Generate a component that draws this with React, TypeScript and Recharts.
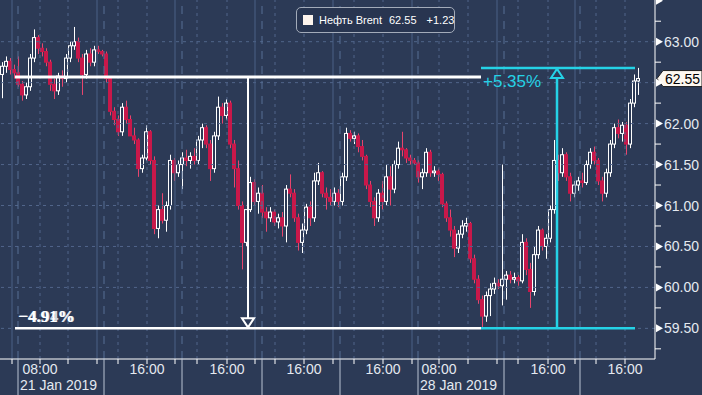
import React from 'react';
import { ComposedChart, Bar, XAxis, YAxis, ReferenceLine, ReferenceDot } from 'recharts';

const BG = '#2c3a56';
const CYAN = '#25d2e6';
const RED = '#c8184a';
const FONT = '"Liberation Sans", Arial, sans-serif';

// legend texts
const seriesName = 'Нефть Brent';
const lastPrice = '62.55';
const lastChange = '+1.23';

// OHLC (hourly-ish candles)
const opens = [
  62.60, 62.70, 62.76, 62.66, 62.62, 62.48, 62.35, 62.45, 62.80, 63.05,
  62.92, 62.88, 62.75, 62.48, 62.40, 62.58, 62.55, 62.80, 62.95, 63.00,
  62.80, 62.60, 62.85, 62.75, 62.90, 62.88, 62.85, 62.55, 62.15, 62.05,
  61.90, 62.20, 62.05, 61.85, 61.80, 61.45, 61.58, 61.90, 61.55, 60.72,
  60.95, 60.82, 61.00, 61.55, 61.40, 61.50, 61.58, 61.55, 61.60, 61.55,
  61.80, 61.95, 61.75, 61.45, 61.85, 62.20, 62.10, 62.25, 61.75, 61.45,
  61.00, 60.55, 60.95, 61.28, 61.05, 61.15, 60.92, 60.85, 60.92, 60.80,
  60.85, 60.75, 61.20, 61.15, 60.85, 60.55, 60.70, 60.98, 60.85, 61.30,
  61.40, 61.15, 61.10, 61.05, 61.15, 61.05, 61.35, 61.88, 61.82, 61.85,
  61.72, 61.60, 61.25, 61.05, 60.85, 61.15, 61.05, 61.35, 61.20, 61.50,
  61.70, 61.68, 61.58, 61.55, 61.52, 61.35, 61.40, 61.65, 61.40, 61.42,
  61.38, 61.02, 60.85, 60.70, 60.48, 60.65, 60.75, 60.78, 60.35, 60.10,
  59.85, 59.65, 59.90, 59.98, 60.05, 60.02, 60.10, 60.15, 60.10, 60.12,
  60.08, 60.55, 60.22, 59.95, 60.40, 60.70, 60.50, 60.60, 60.95, 61.55,
  61.40, 61.62, 61.35, 61.15, 61.25, 61.30, 61.28, 61.50, 61.65, 61.55,
  61.30, 61.15, 61.40, 61.75, 61.95, 61.88, 61.98, 61.75, 62.25, 62.52,
];
const highs = [
  62.75, 62.82, 62.80, 62.72, 62.82, 62.52, 62.50, 62.85, 63.15, 63.08,
  62.98, 62.92, 62.78, 62.55, 62.62, 62.65, 62.85, 63.00, 63.18, 63.05,
  62.85, 62.90, 62.92, 62.95, 62.95, 62.90, 62.88, 62.58, 62.20, 62.10,
  62.25, 62.28, 62.10, 61.95, 61.82, 61.62, 61.98, 61.92, 61.60, 61.00,
  61.15, 61.05, 61.62, 61.58, 61.55, 61.65, 61.68, 61.65, 61.70, 61.85,
  62.00, 61.98, 61.80, 61.90, 62.33, 62.25, 62.30, 62.28, 61.80, 61.55,
  61.05, 60.95, 61.35, 61.32, 61.22, 61.25, 60.98, 60.98, 60.95, 60.90,
  60.92, 61.25, 61.38, 61.20, 60.90, 60.78, 61.02, 61.05, 61.40, 61.52,
  61.42, 61.22, 61.20, 61.22, 61.20, 61.40, 61.95, 61.92, 61.90, 61.88,
  61.80, 61.62, 61.30, 61.10, 61.20, 61.30, 61.50, 61.48, 61.55, 61.78,
  61.90, 61.70, 61.62, 61.58, 61.55, 61.45, 61.70, 61.68, 61.48, 61.45,
  61.40, 61.05, 60.95, 60.75, 60.70, 60.82, 60.85, 60.80, 60.40, 60.15,
  59.90, 59.95, 60.05, 60.12, 60.10, 61.50, 60.20, 60.20, 60.18, 60.15,
  60.65, 60.60, 60.30, 60.50, 60.75, 60.72, 60.65, 61.00, 61.80, 61.62,
  61.70, 61.65, 61.40, 61.30, 61.35, 61.40, 61.55, 61.70, 61.72, 61.58,
  61.35, 61.45, 61.80, 62.00, 62.05, 62.02, 62.02, 62.30, 62.60, 62.68,
];
const lows = [
  62.31, 62.62, 62.60, 62.55, 62.45, 62.28, 62.30, 62.40, 62.75, 62.85,
  62.82, 62.70, 62.40, 62.30, 62.35, 62.45, 62.50, 62.75, 62.90, 62.75,
  62.35, 62.55, 62.70, 62.70, 62.85, 62.82, 62.50, 62.10, 61.98, 61.85,
  61.85, 62.00, 61.85, 61.75, 61.35, 61.40, 61.55, 61.50, 60.65, 60.60,
  60.78, 60.68, 60.95, 61.30, 61.35, 61.20, 61.48, 61.45, 61.50, 61.50,
  61.70, 61.70, 61.30, 61.40, 61.80, 62.00, 62.05, 61.70, 61.22, 60.95,
  60.22, 60.50, 60.92, 61.00, 60.90, 60.85, 60.68, 60.80, 60.75, 60.72,
  60.62, 60.55, 61.10, 60.80, 60.45, 60.42, 60.65, 60.75, 60.80, 61.25,
  61.10, 60.95, 61.00, 61.00, 60.98, 61.00, 61.30, 61.78, 61.75, 61.65,
  61.55, 61.20, 60.98, 60.75, 60.80, 60.95, 61.00, 61.00, 61.15, 61.45,
  61.60, 61.52, 61.50, 61.50, 61.28, 61.20, 61.35, 61.35, 61.35, 61.30,
  60.98, 60.80, 60.62, 60.37, 60.42, 60.60, 60.68, 60.30, 60.05, 59.80,
  59.50, 59.58, 59.65, 59.92, 59.98, 59.78, 59.85, 60.05, 60.05, 60.02,
  60.05, 60.15, 59.75, 59.90, 60.35, 60.45, 60.35, 60.55, 60.90, 61.30,
  61.35, 61.30, 61.05, 61.10, 61.18, 61.22, 61.25, 61.45, 61.50, 61.25,
  61.05, 61.10, 61.35, 61.70, 61.82, 61.78, 61.62, 61.70, 62.20, 62.35,
];
const closes = [
  62.70, 62.76, 62.66, 62.62, 62.48, 62.35, 62.45, 62.80, 63.05, 62.92,
  62.88, 62.75, 62.48, 62.40, 62.58, 62.55, 62.80, 62.95, 63.00, 62.80,
  62.60, 62.85, 62.75, 62.90, 62.88, 62.85, 62.55, 62.15, 62.05, 61.90,
  62.20, 62.05, 61.85, 61.80, 61.45, 61.58, 61.90, 61.55, 60.72, 60.95,
  60.82, 61.00, 61.55, 61.40, 61.50, 61.58, 61.55, 61.60, 61.55, 61.80,
  61.95, 61.75, 61.45, 61.85, 62.20, 62.10, 62.25, 61.75, 61.45, 61.00,
  60.55, 60.95, 61.28, 61.05, 61.15, 60.92, 60.85, 60.92, 60.80, 60.85,
  60.75, 61.20, 61.15, 60.85, 60.55, 60.70, 60.98, 60.85, 61.30, 61.40,
  61.15, 61.10, 61.05, 61.15, 61.05, 61.35, 61.88, 61.82, 61.85, 61.72,
  61.60, 61.25, 61.05, 60.85, 61.15, 61.05, 61.35, 61.20, 61.50, 61.70,
  61.68, 61.58, 61.55, 61.52, 61.35, 61.40, 61.65, 61.40, 61.42, 61.38,
  61.02, 60.85, 60.70, 60.48, 60.65, 60.75, 60.78, 60.35, 60.10, 59.85,
  59.65, 59.90, 59.98, 60.05, 60.02, 60.10, 60.15, 60.10, 60.12, 60.08,
  60.55, 60.22, 59.95, 60.40, 60.70, 60.50, 60.60, 60.95, 61.55, 61.40,
  61.62, 61.35, 61.15, 61.25, 61.30, 61.28, 61.50, 61.65, 61.55, 61.30,
  61.15, 61.40, 61.75, 61.95, 61.88, 61.98, 61.75, 62.25, 62.52, 62.55,
];

// time axis, in candle-index units
const sessionEnds = [2.5, 23.75, 43.25, 63.25, 82.75, 102.5, 123.75, 143.25];
const dayStarts = [4, 25.5, 45, 65, 84.5, 104, 125.5, 144.5];
const dateLabels = ['21 Jan 2019', '', '', '', '', '28 Jan 2019', '', ''];
const ticks08 = [9.5, 29, 48.75, 68.25, 88, 109.25, 129, 148.5];
const labels08 = ['08:00', '', '', '', '', '08:00', '', ''];
const ticks16 = [16.5, 36.25, 56.25, 75.5, 95.25, 116.5, 136.5, 155.75];
const labels16 = ['', '16:00', '16:00', '16:00', '16:00', '', '16:00', '16:00'];

// price axis
const majorTicks = [59.5, 60.0, 60.5, 61.0, 61.5, 62.0, 62.5, 63.0, 63.5];
const minorTicks = [59.25, 59.75, 60.25, 60.75, 61.25, 61.75, 62.25, 62.75, 63.25];
const Y_MIN = 59.126;
const Y_MAX = 63.509;
const X_MIN = -0.5;
const X_MAX = 163.25;
const lastClose = closes[closes.length - 1];

// annotations
const prevHigh = 62.57;
const periodLow = 59.5;
const recentHigh = 62.68;
const lineStartIdx = 3.25;
const lineSplitIdx = 119.75;
const lineEndIdx = 158.25;
const dropArrowIdx = 61.5;
const riseArrowIdx = 138.75;
const dropLabel = '−4.91%';
const dropLabelGhost = '−4.94%';
const riseLabel = '+5.35%';

const data = opens.map((o, i) => ({
  i,
  open: o,
  high: highs[i],
  low: lows[i],
  close: closes[i],
  range: [lows[i], highs[i]],
}));

const Candle = (props: any) => {
  const { x, y, width, height, payload } = props;
  if (!payload || height == null) return null;
  const { open, close, high, low } = payload;
  const k = height / Math.max(high - low, 1e-6);
  const yO = y + (high - open) * k;
  const yC = y + (high - close) * k;
  const up = close >= open;
  const left = Math.round(x) + 0.5;
  const w = Math.max(Math.round(width) - 1, 1);
  const cx = left + Math.round(w / 2);
  const top = Math.min(yO, yC);
  const bh = Math.max(Math.abs(yC - yO), 1);
  return (
    <g>
      <line x1={cx} x2={cx} y1={y} y2={y + height} stroke={up ? '#ffffff' : '#e8456e'} strokeWidth={1} />
      <rect
        x={left}
        y={top}
        width={w}
        height={bh}
        fill={up ? BG : RED}
        stroke={up ? '#ffffff' : RED}
        strokeWidth={1}
      />
    </g>
  );
};

const XTick = (props: any) => {
  const { x, y, payload } = props;
  const v = payload.value;
  const items: any[] = [];
  const d = dayStarts.indexOf(v);
  if (d >= 0) {
    items.push(<line key="s" x1={x} x2={x} y1={y} y2={y + 40} stroke="#b9c3d3" strokeWidth={1} />);
    if (dateLabels[d]) {
      items.push(
        <text key="d" x={x + 2} y={y + 31} fill="#e4e9f0" fontSize={14} fontFamily={FONT}>
          {dateLabels[d]}
        </text>
      );
    }
  } else {
    items.push(<line key="t" x1={x} x2={x} y1={y} y2={y + 5} stroke="#ffffff" strokeWidth={1} />);
  }
  const a = ticks08.indexOf(v);
  const b = ticks16.indexOf(v);
  const lab = a >= 0 ? labels08[a] : b >= 0 ? labels16[b] : '';
  if (lab) {
    items.push(
      <text key="l" x={x} y={y + 15} fill="#e4e9f0" fontSize={14} fontFamily={FONT} textAnchor="middle">
        {lab}
      </text>
    );
  }
  return <g>{items}</g>;
};

const YTick = (props: any) => {
  const { x, y, payload } = props;
  const v = payload.value;
  const isMajor = majorTicks.indexOf(v) >= 0;
  if (!isMajor) {
    return <line x1={x} x2={x + 6} y1={y} y2={y} stroke="#ffffff" strokeWidth={1} />;
  }
  // the last-price tag covers the neighbouring label
  const hidden = v > 63.01 || Math.abs(v - lastClose) < 0.2;
  return (
    <g>
      <polygon points={`${x + 1},${y - 4} ${x + 8},${y} ${x + 1},${y + 4}`} fill="#ffffff" />
      {!hidden && (
        <text x={x + 9} y={y + 5} fill="#e4e9f0" fontSize={14} fontFamily={FONT}>
          {v.toFixed(2)}
        </text>
      )}
    </g>
  );
};

const PriceTag = (props: any) => {
  const { cx, cy } = props;
  if (cx == null) return null;
  const l = cx + 2;
  return (
    <g>
      <polygon
        points={`${l},${cy} ${l + 6},${cy - 8} ${l + 45},${cy - 8} ${l + 45},${cy + 8} ${l + 6},${cy + 8}`}
        fill="#fdf7ef"
        stroke="#222"
        strokeWidth={1}
      />
      <text x={l + 8} y={cy + 5} fill="#000" fontSize={14} fontFamily={FONT}>
        {lastPrice}
      </text>
    </g>
  );
};

const DownTri = (props: any) => {
  const { cx, cy } = props;
  if (cx == null) return null;
  return (
    <polygon
      points={`${cx - 6},${cy - 10} ${cx + 6},${cy - 10} ${cx},${cy - 1}`}
      fill={BG}
      stroke="#ffffff"
      strokeWidth={2}
    />
  );
};

const UpTri = (props: any) => {
  const { cx, cy } = props;
  if (cx == null) return null;
  return (
    <polygon
      points={`${cx - 6},${cy + 10} ${cx + 6},${cy + 10} ${cx},${cy + 1}`}
      fill={BG}
      stroke={CYAN}
      strokeWidth={2}
    />
  );
};

const DropText = (props: any) => {
  const { cx, cy } = props;
  if (cx == null) return null;
  return (
    <g fontFamily='"Liberation Serif", "Times New Roman", serif' fontWeight="bold" fontSize={17}>
      <text x={cx + 4} y={cy - 6} fill="#cfd6e0">{dropLabelGhost}</text>
      <text x={cx + 3} y={cy - 6} fill="#ffffff">{dropLabel}</text>
    </g>
  );
};

const RiseText = (props: any) => {
  const { cx, cy } = props;
  if (cx == null) return null;
  return (
    <text x={cx + 2} y={cy + 19} fill={CYAN} fontSize={17} fontFamily={FONT}>
      {riseLabel}
    </text>
  );
};

export default function App() {
  return (
    <div style={{ position: 'fixed', left: 0, top: 0, width: 702, height: 395, background: BG }}>
      <ComposedChart
        width={702}
        height={395}
        data={data}
        margin={{ top: 0, right: 0, bottom: 0, left: 0 }}
        style={{ fontFamily: FONT }}
      >
        <XAxis
          dataKey="i"
          type="number"
          domain={[X_MIN, X_MAX]}
          allowDataOverflow
          ticks={[...sessionEnds, ...dayStarts, ...ticks08, ...ticks16].sort((p, q) => p - q)}
          interval={0}
          tick={<XTick />}
          tickLine={false}
          tickSize={0}
          tickMargin={0}
          height={36}
          axisLine={{ stroke: '#ffffff', strokeWidth: 1 }}
        />
        <YAxis
          orientation="right"
          type="number"
          domain={[Y_MIN, Y_MAX]}
          allowDataOverflow
          ticks={[...majorTicks, ...minorTicks].sort((p, q) => p - q)}
          interval={0}
          tick={<YTick />}
          tickLine={false}
          tickSize={0}
          tickMargin={0}
          width={47}
          axisLine={{ stroke: '#ffffff', strokeWidth: 1 }}
        />

        {majorTicks.filter((v) => v <= 63.01).map((v) => (
          <ReferenceLine key={'h' + v} y={v} stroke="#51658a" strokeDasharray="3 4" strokeWidth={1} />
        ))}
        {sessionEnds.map((v) => (
          <ReferenceLine key={'se' + v} x={v} stroke="#4a6186" strokeWidth={1} />
        ))}
        {dayStarts.map((v) => (
          <ReferenceLine key={'ds' + v} x={v} stroke="#566f94" strokeDasharray="8 7" strokeWidth={1} />
        ))}
        {[...ticks08, ...ticks16].map((v) => (
          <ReferenceLine key={'t' + v} x={v} stroke="#51658a" strokeDasharray="3 4" strokeWidth={1} />
        ))}

        <Bar dataKey="range" barSize={4} shape={<Candle />} isAnimationActive={false} />

        <ReferenceLine
          segment={[{ x: lineStartIdx, y: prevHigh }, { x: lineSplitIdx, y: prevHigh }]}
          stroke="#ffffff"
          strokeWidth={3}
        />
        <ReferenceLine
          segment={[{ x: lineStartIdx, y: periodLow }, { x: lineSplitIdx, y: periodLow }]}
          stroke="#ffffff"
          strokeWidth={2.5}
        />
        <ReferenceLine
          segment={[{ x: lineSplitIdx, y: recentHigh }, { x: lineEndIdx, y: recentHigh }]}
          stroke={CYAN}
          strokeWidth={2.5}
        />
        <ReferenceLine
          segment={[{ x: lineSplitIdx, y: periodLow }, { x: lineEndIdx, y: periodLow }]}
          stroke={CYAN}
          strokeWidth={2.5}
        />
        <ReferenceLine
          segment={[{ x: dropArrowIdx, y: prevHigh }, { x: dropArrowIdx, y: periodLow }]}
          stroke="#ffffff"
          strokeWidth={2}
        />
        <ReferenceLine
          segment={[{ x: riseArrowIdx, y: periodLow }, { x: riseArrowIdx, y: recentHigh }]}
          stroke={CYAN}
          strokeWidth={2.5}
        />
        <ReferenceDot x={dropArrowIdx} y={periodLow} r={0} shape={<DownTri />} />
        <ReferenceDot x={riseArrowIdx} y={recentHigh} r={0} shape={<UpTri />} />
        <ReferenceDot x={lineStartIdx} y={periodLow} r={0} shape={<DropText />} />
        <ReferenceDot x={lineSplitIdx} y={recentHigh} r={0} shape={<RiseText />} />
        <ReferenceDot x={X_MAX} y={lastClose} r={0} shape={<PriceTag />} />
      </ComposedChart>

      <div
        style={{
          position: 'absolute',
          left: 296,
          top: 7,
          width: 159,
          height: 26,
          boxSizing: 'border-box',
          border: '1px solid #a3abb9',
          borderRadius: 5,
          background: '#283550',
          display: 'flex',
          alignItems: 'center',
          fontFamily: FONT,
          fontSize: 11,
          color: '#ffffff',
          whiteSpace: 'pre',
          overflow: 'visible',
        }}
      >
        <span
          style={{
            display: 'inline-block',
            flexShrink: 0,
            width: 10,
            height: 10,
            background: '#fdf4ec',
            marginLeft: 6,
            marginRight: 6,
          }}
        />
        <span style={{ flexShrink: 0 }}>{seriesName}</span>
        <span style={{ flexShrink: 0, marginLeft: 7 }}>{lastPrice}</span>
        <span style={{ flexShrink: 0, marginLeft: 10 }}>{lastChange}</span>
      </div>
    </div>
  );
}
